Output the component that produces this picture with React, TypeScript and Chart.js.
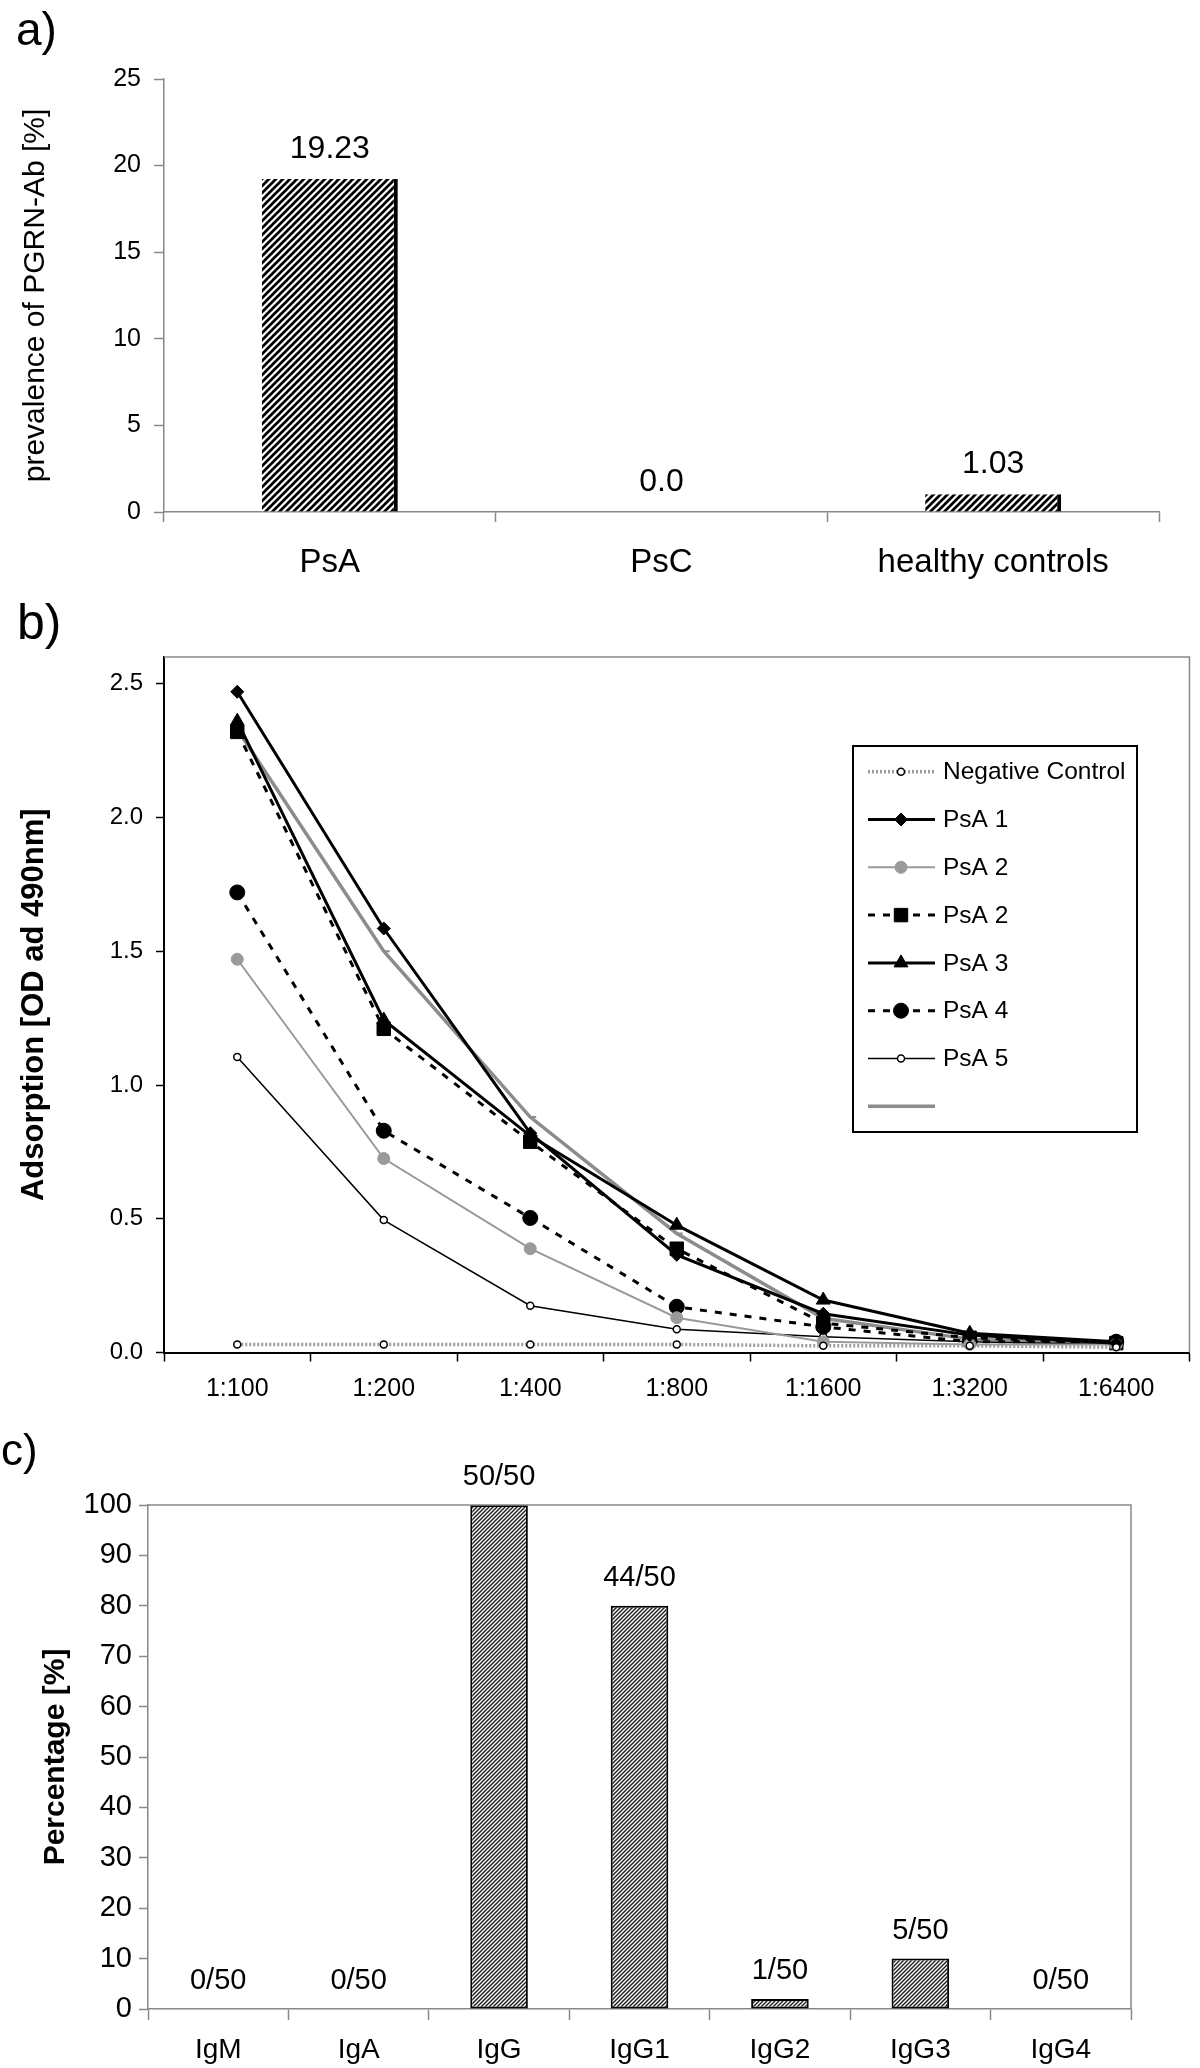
import React, { useEffect, useRef } from 'react';
import { Chart, registerables } from 'chart.js';
import { drawPoint } from 'chart.js/helpers';

Chart.register(...registerables);

const FONT = '"Liberation Sans", Arial, Helvetica, sans-serif';

// ---------- Panel a ----------
const groups = ['PsA', 'PsC', 'healthy controls'];
const prevalence = [19.23, 0, 1.03];
const prevalenceLabels = ['19.23', '0.0', '1.03'];

// ---------- Panel b ----------
const dilutions = ['1:100', '1:200', '1:400', '1:800', '1:1600', '1:3200', '1:6400'];
const negativeControl = [0.03, 0.03, 0.03, 0.03, 0.025, 0.025, 0.02];
const psa1 = [2.47, 1.585, 0.82, 0.365, 0.145, 0.065, 0.035];
const psa2Gray = [1.47, 0.725, 0.388, 0.13, 0.04, 0.03, 0.03];
const psa2Dashed = [2.32, 1.21, 0.788, 0.388, 0.11, 0.055, 0.035];
const psa3 = [2.36, 1.243, 0.81, 0.476, 0.196, 0.072, 0.04];
const psa4 = [1.72, 0.829, 0.503, 0.171, 0.096, 0.04, 0.04];
const psa5 = [1.105, 0.495, 0.175, 0.087, 0.059, 0.04, 0.03];
const unnamedGray = [2.33, 1.5, 0.88, 0.445, 0.128, 0.05, 0.035];
const seriesNames = ['Negative Control', 'PsA 1', 'PsA 2', 'PsA 2', 'PsA 3', 'PsA 4', 'PsA 5', ''];

// ---------- Panel c ----------
const isotypes = ['IgM', 'IgA', 'IgG', 'IgG1', 'IgG2', 'IgG3', 'IgG4'];
const isotypePercent = [0, 0, 100, 80, 2, 10, 0];
const isotypeCounts = ['0/50', '0/50', '50/50', '44/50', '1/50', '5/50', '0/50'];

function makeHatch(ctx: CanvasRenderingContext2D, size: number, lw: number, color: string) {
  const c = document.createElement('canvas');
  c.width = size;
  c.height = size;
  const g = c.getContext('2d')!;
  g.fillStyle = '#fff';
  g.fillRect(0, 0, size, size);
  g.strokeStyle = color;
  g.lineWidth = lw;
  g.beginPath();
  g.moveTo(0, size);
  g.lineTo(size, 0);
  g.moveTo(-size / 2, size / 2);
  g.lineTo(size / 2, -size / 2);
  g.moveTo(size / 2, size * 1.5);
  g.lineTo(size * 1.5, size / 2);
  g.stroke();
  return ctx.createPattern(c, 'repeat')!;
}

const valueLabelPlugin = (labels: string[], offset: number, size: number) => ({
  id: 'valueLabels',
  afterDatasetsDraw(chart: any) {
    const ctx = chart.ctx;
    const meta = chart.getDatasetMeta(0);
    ctx.save();
    ctx.font = `${size}px ${FONT}`;
    ctx.fillStyle = '#000';
    ctx.textAlign = 'center';
    ctx.textBaseline = 'middle';
    meta.data.forEach((el: any, i: number) => {
      ctx.fillText(labels[i], el.x, el.y - offset);
    });
    ctx.restore();
  },
});

const framePlugin = (color: string, width: number) => ({
  id: 'frame',
  afterDraw(chart: any) {
    const { left, right, top, bottom } = chart.chartArea;
    const ctx = chart.ctx;
    ctx.save();
    ctx.strokeStyle = color;
    ctx.lineWidth = width;
    ctx.setLineDash([]);
    ctx.beginPath();
    ctx.moveTo(left, top);
    ctx.lineTo(right, top);
    ctx.lineTo(right, bottom);
    ctx.stroke();
    ctx.restore();
  },
});

const boxLegendPlugin = {
  id: 'boxLegend',
  afterDraw(chart: any) {
    const ctx = chart.ctx;
    const bx = 853, by = 156, bw = 284, bh = 386;
    ctx.save();
    ctx.fillStyle = '#fff';
    ctx.fillRect(bx, by, bw, bh);
    ctx.strokeStyle = '#000';
    ctx.lineWidth = 2;
    ctx.setLineDash([]);
    ctx.strokeRect(bx, by, bw, bh);
    chart.data.datasets.forEach((ds: any, i: number) => {
      const y = by + 25.7 + 47.8 * i;
      ctx.save();
      ctx.strokeStyle = ds.borderColor;
      ctx.lineWidth = ds.borderWidth;
      ctx.setLineDash(ds.borderDash || []);
      ctx.beginPath();
      ctx.moveTo(868, y);
      ctx.lineTo(935, y);
      ctx.stroke();
      ctx.setLineDash([]);
      ctx.fillStyle = ds.pointBackgroundColor;
      ctx.strokeStyle = ds.pointBorderColor;
      ctx.lineWidth = ds.pointBorderWidth;
      drawPoint(ctx, { pointStyle: ds.pointStyle, radius: ds.pointRadius, rotation: 0, borderWidth: ds.pointBorderWidth } as any, 901, y);
      ctx.restore();
      ctx.fillStyle = '#000';
      ctx.font = `24.5px ${FONT}`;
      ctx.textBaseline = 'middle';
      ctx.textAlign = 'left';
      ctx.fillText(ds.label, 943, y + 1);
    });
    ctx.restore();
  },
};

function makeA(canvas: HTMLCanvasElement): any {
  const pattern = makeHatch(canvas.getContext('2d')!, 7, 2.7, '#000');
  return {
    type: 'bar',
    data: {
      labels: groups,
      datasets: [
        {
          data: prevalence,
          backgroundColor: pattern,
          borderColor: '#000',
          borderWidth: { top: 0, right: 4, bottom: 0, left: 0 },
          borderSkipped: false,
          barPercentage: 0.41,
          categoryPercentage: 1,
        },
      ],
    },
    options: {
      responsive: false,
      animation: false,
      events: [],
      layout: { padding: { top: 79, right: 41, left: 0, bottom: 0 } },
      plugins: { legend: { display: false }, tooltip: { enabled: false } },
      scales: {
        x: {
          grid: { offset: true, drawOnChartArea: false, tickLength: 10, tickColor: '#888', tickWidth: 1.5 },
          border: { color: '#888', width: 1.5 },
          ticks: { font: { family: FONT, size: 33 }, color: '#000', padding: 21, autoSkip: false, maxRotation: 0 },
          afterFit: (s: any) => { s.height = 88; },
        },
        y: {
          min: 0,
          max: 25,
          ticks: { stepSize: 5, font: { family: FONT, size: 25 }, color: '#000', padding: 13 },
          grid: { drawOnChartArea: false, tickLength: 10, tickColor: '#888', tickWidth: 1.5 },
          border: { color: '#888', width: 1.5 },
          title: { display: true, text: 'prevalence of PGRN-Ab [%]', font: { family: FONT, size: 30 }, color: '#000', padding: { top: 18, bottom: 0 } },
          afterFit: (s: any) => { s.width = 164; },
        },
      },
    },
    plugins: [valueLabelPlugin(prevalenceLabels, 30, 32)],
  };
}

function makeB(_canvas: HTMLCanvasElement): any {
  const series = [negativeControl, psa1, psa2Gray, psa2Dashed, psa3, psa4, psa5, unnamedGray];
  const styles: any[] = [
    { borderColor: '#9c9c9c', borderWidth: 3.5, borderDash: [2, 2], pointStyle: 'circle', pointRadius: 3.5, pointBackgroundColor: '#fff', pointBorderColor: '#000', pointBorderWidth: 1.5 },
    { borderColor: '#000', borderWidth: 3, pointStyle: 'rectRot', pointRadius: 6.5, pointBackgroundColor: '#000', pointBorderColor: '#000', pointBorderWidth: 1 },
    { borderColor: '#9a9a9a', borderWidth: 2, pointStyle: 'circle', pointRadius: 6, pointBackgroundColor: '#9a9a9a', pointBorderColor: '#9a9a9a', pointBorderWidth: 1 },
    { borderColor: '#000', borderWidth: 3, borderDash: [7, 8], pointStyle: 'rect', pointRadius: 9.5, pointBackgroundColor: '#000', pointBorderColor: '#000', pointBorderWidth: 1 },
    { borderColor: '#000', borderWidth: 3, pointStyle: 'triangle', pointRadius: 8, pointBackgroundColor: '#000', pointBorderColor: '#000', pointBorderWidth: 1 },
    { borderColor: '#000', borderWidth: 3, borderDash: [7, 8], pointStyle: 'circle', pointRadius: 7.5, pointBackgroundColor: '#000', pointBorderColor: '#000', pointBorderWidth: 1 },
    { borderColor: '#000', borderWidth: 1.5, pointStyle: 'circle', pointRadius: 3.5, pointBackgroundColor: '#fff', pointBorderColor: '#000', pointBorderWidth: 1.5 },
    { borderColor: '#8c8c8c', borderWidth: 3.5, pointStyle: 'dash', pointRadius: 6, pointBackgroundColor: '#8c8c8c', pointBorderColor: '#8c8c8c', pointBorderWidth: 2 },
  ];
  return {
    type: 'line',
    data: {
      labels: dilutions,
      datasets: series.map((d, i) => ({
        label: seriesNames[i],
        data: d,
        fill: false,
        tension: 0,
        ...styles[i],
      })),
    },
    options: {
      responsive: false,
      animation: false,
      events: [],
      layout: { padding: { top: 67, right: 1, left: 0, bottom: 0 } },
      plugins: { legend: { display: false }, tooltip: { enabled: false } },
      scales: {
        x: {
          offset: true,
          grid: { offset: true, drawOnChartArea: false, tickLength: 9, tickColor: '#000', tickWidth: 1.5 },
          border: { color: '#000', width: 2 },
          ticks: { font: { family: FONT, size: 25 }, color: '#000', padding: 13, autoSkip: false, maxRotation: 0 },
          afterFit: (s: any) => { s.height = 67.5; },
        },
        y: {
          min: 0,
          max: 2.6,
          ticks: { stepSize: 0.5, includeBounds: false, font: { family: FONT, size: 24 }, color: '#000', padding: 13, callback: (v: any) => Number(v).toFixed(1) },
          grid: { drawOnChartArea: false, tickLength: 8, tickColor: '#000', tickWidth: 1.5 },
          border: { color: '#000', width: 2 },
          title: { display: true, text: 'Adsorption [OD ad 490nm]', font: { family: FONT, size: 31, weight: 'bold' }, color: '#000', padding: { top: 16, bottom: 0 } },
          afterFit: (s: any) => { s.width = 164; },
        },
      },
    },
    plugins: [framePlugin('#888', 1.5), boxLegendPlugin],
  };
}

function makeC(canvas: HTMLCanvasElement): any {
  const pattern = makeHatch(canvas.getContext('2d')!, 4, 1.5, '#222');
  return {
    type: 'bar',
    data: {
      labels: isotypes,
      datasets: [
        {
          data: isotypePercent,
          backgroundColor: pattern,
          borderColor: '#000',
          borderWidth: 2,
          borderSkipped: false,
          barPercentage: 0.41,
          categoryPercentage: 1,
        },
      ],
    },
    options: {
      responsive: false,
      animation: false,
      events: [],
      layout: { padding: { top: 85, right: 69, left: 0, bottom: 0 } },
      plugins: { legend: { display: false }, tooltip: { enabled: false } },
      scales: {
        x: {
          grid: { offset: true, drawOnChartArea: false, tickLength: 11, tickColor: '#888', tickWidth: 1.5 },
          border: { color: '#888', width: 1.5 },
          ticks: { font: { family: FONT, size: 28 }, color: '#000', padding: 13, autoSkip: false, maxRotation: 0 },
          afterFit: (s: any) => { s.height = 59; },
        },
        y: {
          min: 0,
          max: 100,
          ticks: { stepSize: 10, font: { family: FONT, size: 29 }, color: '#000', padding: 7 },
          grid: { drawOnChartArea: false, tickLength: 9, tickColor: '#888', tickWidth: 1.5 },
          border: { color: '#888', width: 1.5 },
          title: { display: true, text: 'Percentage [%]', font: { family: FONT, size: 30, weight: 'bold' }, color: '#000', padding: { top: 38, bottom: 0 } },
          afterFit: (s: any) => { s.width = 148; },
        },
      },
    },
    plugins: [framePlugin('#888', 1.5), valueLabelPlugin(isotypeCounts, 28, 29)],
  };
}

function ChartCanvas({ top, height, make }: { top: number; height: number; make: (c: HTMLCanvasElement) => any }) {
  const ref = useRef<HTMLCanvasElement>(null);
  useEffect(() => {
    const canvas = ref.current!;
    const chart = new Chart(canvas, make(canvas));
    return () => chart.destroy();
  }, []);
  return (
    <canvas
      ref={ref}
      width={1200}
      height={height}
      style={{ position: 'absolute', left: 0, top, width: 1200, height, display: 'block' }}
    />
  );
}

const panelLabel = (text: string, left: number, top: number, size: number) => (
  <div
    style={{
      position: 'absolute',
      left,
      top,
      fontFamily: FONT,
      fontSize: size,
      lineHeight: 1,
      color: '#000',
      whiteSpace: 'nowrap',
    }}
  >
    {text}
  </div>
);

export default function App() {
  return (
    <div style={{ position: 'absolute', left: 0, top: 0, width: 1200, height: 2068, background: '#fff', overflow: 'hidden' }}>
      <ChartCanvas top={0} height={600} make={makeA} />
      <ChartCanvas top={590} height={830} make={makeB} />
      <ChartCanvas top={1420} height={648} make={makeC} />
      {panelLabel('a)', 16, 6, 46)}
      {panelLabel('b)', 17, 597, 50)}
      {panelLabel('c)', 1, 1428, 44)}
    </div>
  );
}
